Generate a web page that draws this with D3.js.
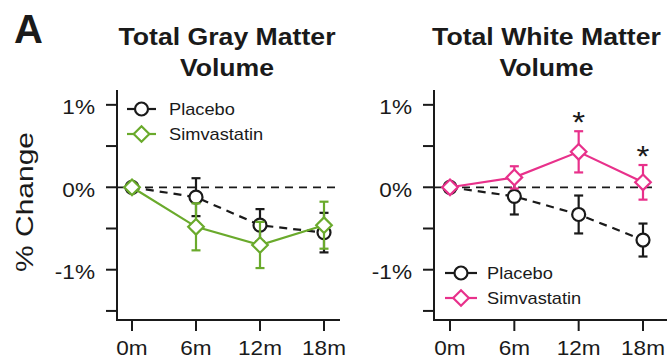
<!DOCTYPE html>
<html><head><meta charset="utf-8">
<script src="https://cdn.jsdelivr.net/npm/d3@7"></script>
<style>html,body{margin:0;padding:0;background:#fff;}svg{display:block;font-family:"Liberation Sans",Arial,Helvetica,sans-serif;}</style>
</head><body><svg id="c" width="667" height="359"></svg>
<script>
// ---- data ----
const months = [0, 6, 12, 18];
const xTickLabels = ["0m", "6m", "12m", "18m"];
const yTicks = [1, 0.5, 0, -0.5, -1, -1.5];
const yTickLabels = {"1": "1%", "0": "0%", "-1": "-1%"};
const seriesNames = ["Placebo", "Simvastatin"];
const grayPlacebo = [0, -0.12, -0.46, -0.55];
const grayPlaceboErr = [0, 0.23, 0.195, 0.24];
const graySimva = [0, -0.48, -0.70, -0.46];
const graySimvaErr = [0, 0.285, 0.28, 0.285];
const whitePlacebo = [0, -0.11, -0.33, -0.64];
const whitePlaceboErr = [0, 0.22, 0.23, 0.20];
const whiteSimva = [0, 0.12, 0.43, 0.06];
const whiteSimvaErr = [0, 0.135, 0.25, 0.21];
const whiteStars = [false, false, true, true];

const svg = d3.select("#c");
const INK = "#1a1a1a";
const GREEN = "#6aaa2c";
const PINK = "#e8318b";

function txt(g, x, y, s, o) {
  o = o || {};
  return g.append("text")
    .attr("transform", `translate(${x},${y}) rotate(${o.rot||0}) scale(${o.sx||1},1)`)
    .attr("text-anchor", o.anchor || "start")
    .attr("font-size", o.size || 16)
    .attr("font-weight", o.bold ? "bold" : "normal")
    .attr("fill", INK)
    .text(s);
}

const y = d3.scaleLinear().domain([-1.61, 1.18]).range([320, 90]);

function panel(cfg) {
  const g = svg.append("g");
  const x = d3.scaleLinear().domain([0, 18]).range([cfg.x0, cfg.x1]);
  const axL = cfg.axisX, axR = cfg.axisEnd;
  // title
  txt(g, cfg.titleX, 44.5, cfg.title[0], {size: 24, bold: true, anchor: "middle", sx: 1.11});
  txt(g, cfg.titleX, 75.5, cfg.title[1], {size: 24, bold: true, anchor: "middle", sx: 1.11});
  // axes lines
  g.append("line").attr("x1", axL).attr("x2", axL).attr("y1", y.range()[1]).attr("y2", 321)
    .attr("stroke", INK).attr("stroke-width", 2);
  g.append("line").attr("x1", axL - 1).attr("x2", axR).attr("y1", 320).attr("y2", 320)
    .attr("stroke", INK).attr("stroke-width", 2);
  yTicks.forEach(t => {
    g.append("line").attr("x1", axL - 11).attr("x2", axL).attr("y1", y(t)).attr("y2", y(t))
      .attr("stroke", INK).attr("stroke-width", 2);
    if (yTickLabels[String(t)] !== undefined)
      txt(g, axL - 22, y(t) + 9.5, yTickLabels[String(t)], {size: 20, anchor: "end", sx: 1.13});
  });
  months.forEach((m, i) => {
    g.append("line").attr("x1", x(m)).attr("x2", x(m)).attr("y1", 320).attr("y2", 331)
      .attr("stroke", INK).attr("stroke-width", 2);
    txt(g, x(m), 355, xTickLabels[i], {size: 20, anchor: "middle", sx: 1.13});
  });
  // zero line
  g.append("line").attr("x1", axL).attr("x2", cfg.zeroEnd).attr("y1", y(0)).attr("y2", y(0))
    .attr("stroke", INK).attr("stroke-width", 1.8).attr("stroke-dasharray", "8,6");

  function series(vals, errs, color, shape, dash) {
    const line = d3.line().x((d, i) => x(months[i])).y(d => y(d));
    g.append("path").attr("d", line(vals)).attr("fill", "none").attr("stroke", color)
      .attr("stroke-width", 2.2).attr("stroke-dasharray", dash || null);
    vals.forEach((v, i) => {
      if (errs[i] <= 0) return;
      const cx = x(months[i]);
      g.append("line").attr("x1", cx).attr("x2", cx).attr("y1", y(v + errs[i])).attr("y2", y(v - errs[i]))
        .attr("stroke", color).attr("stroke-width", 2.2);
      [v + errs[i], v - errs[i]].forEach(e => g.append("line").attr("x1", cx - 4.5).attr("x2", cx + 4.5)
        .attr("y1", y(e)).attr("y2", y(e)).attr("stroke", color).attr("stroke-width", 2.2));
    });
    vals.forEach((v, i) => marker(g, x(months[i]), y(v), color, shape));
  }
  series(cfg.placebo, cfg.placeboErr, INK, "circle", "8,6");
  series(cfg.simva, cfg.simvaErr, cfg.color, "diamond");
  if (cfg.stars) cfg.stars.forEach((s, i) => {
    if (!s) return;
    txt(g, x(months[i]), y(cfg.simva[i] + cfg.simvaErr[i]) + 1, "*", {size: 30, anchor: "middle", sx: 1.1});
  });
  // legend
  const L = cfg.legend;
  [[INK, "circle"], [cfg.color, "diamond"]].forEach((s, i) => {
    const ly = L.y + i * 25;
    g.append("line").attr("x1", L.x1).attr("x2", L.x2).attr("y1", ly).attr("y2", ly)
      .attr("stroke", s[0]).attr("stroke-width", 2.2);
    marker(g, (L.x1 + L.x2) / 2, ly, s[0], s[1]);
    txt(g, L.tx, ly + 5.8, seriesNames[i], {size: 16, sx: 1.14});
  });
}

function marker(g, cx, cy, color, shape) {
  if (shape === "circle") {
    g.append("circle").attr("cx", cx).attr("cy", cy).attr("r", 6.5)
      .attr("fill", "#fff").attr("stroke", color).attr("stroke-width", 2.2);
  } else {
    const r = 7.8;
    g.append("path").attr("d", `M${cx},${cy - r}L${cx + r},${cy}L${cx},${cy + r}L${cx - r},${cy}Z`)
      .attr("fill", "#fff").attr("stroke", color).attr("stroke-width", 2.2);
  }
}

panel({x0: 132, x1: 324, axisX: 117, axisEnd: 340, zeroEnd: 340, titleX: 227,
  title: ["Total Gray Matter", "Volume"], color: GREEN,
  placebo: grayPlacebo, placeboErr: grayPlaceboErr, simva: graySimva, simvaErr: graySimvaErr,
  legend: {y: 109, x1: 127, x2: 156, tx: 169}});
panel({x0: 450, x1: 643, axisX: 434, axisEnd: 667, zeroEnd: 658, titleX: 546.5,
  title: ["Total White Matter", "Volume"], color: PINK,
  placebo: whitePlacebo, placeboErr: whitePlaceboErr, simva: whiteSimva, simvaErr: whiteSimvaErr,
  stars: whiteStars,
  legend: {y: 273, x1: 445, x2: 477, tx: 487}});

// y label and panel letter
txt(svg, 33, 202, "% Change", {size: 24, anchor: "middle", rot: -90, sx: 1.25});
txt(svg, 14, 42.5, "A", {size: 40, bold: true});
</script></body></html>
